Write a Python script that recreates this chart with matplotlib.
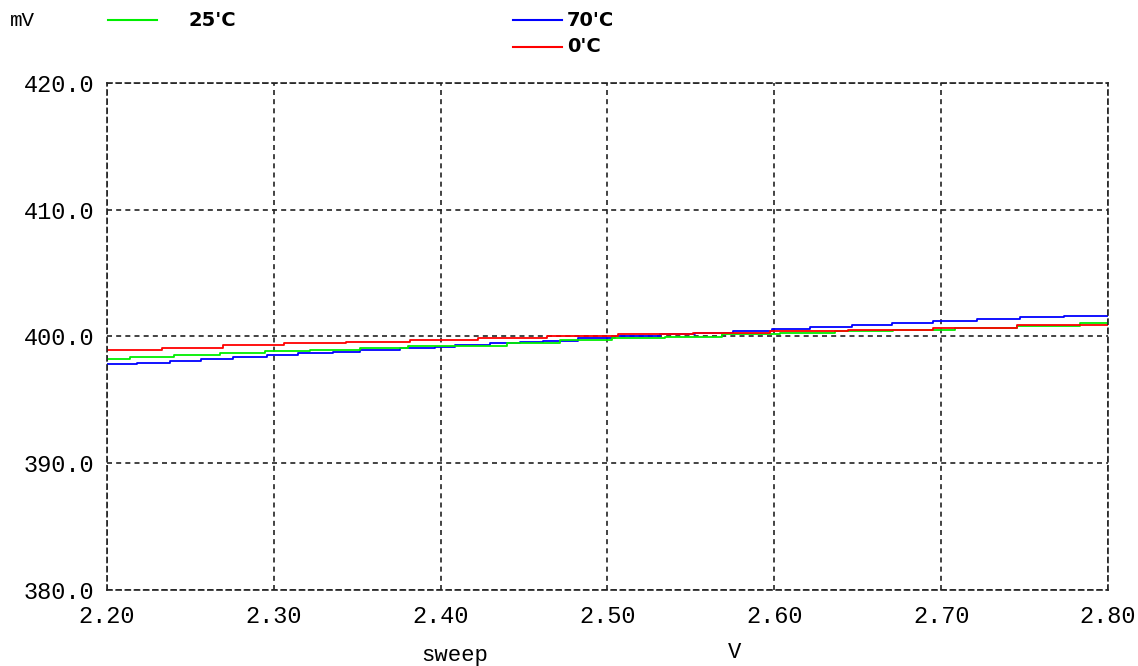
import matplotlib.pyplot as plt

# step curves: (sweep V, output mV), held until next point
v_25 = [2.200, 2.2138, 2.2402, 2.2677, 2.2947, 2.3217, 2.3517, 2.3804, 2.4398,
        2.4715, 2.5027, 2.5345, 2.5686, 2.6034, 2.6364, 2.6711, 2.7083, 2.7455,
        2.7832, 2.800]
mv_25 = [398.20, 398.36, 398.52, 398.67, 398.83, 398.93, 399.09, 399.25, 399.46,
         399.72, 399.85, 399.98, 400.17, 400.27, 400.41, 400.50, 400.67, 400.86,
         401.05, 401.05]

v_70 = [2.200, 2.218, 2.2378, 2.2563, 2.2755, 2.2959, 2.3145, 2.3355, 2.3517,
        2.3756, 2.3966, 2.4086, 2.4296, 2.4476, 2.4613, 2.4823, 2.5045, 2.5315,
        2.5524, 2.5752, 2.5986, 2.6214, 2.6466, 2.6705, 2.6951, 2.7215, 2.7473,
        2.7736, 2.800]
mv_70 = [397.81, 397.93, 398.09, 398.22, 398.38, 398.52, 398.67, 398.80, 398.93,
         399.08, 399.19, 399.31, 399.45, 399.55, 399.67, 399.86, 400.05, 400.20,
         400.31, 400.43, 400.61, 400.77, 400.93, 401.09, 401.25, 401.38, 401.51,
         401.64, 401.64]

v_0 = [2.200, 2.2330, 2.2695, 2.3061, 2.3433, 2.3816, 2.4224, 2.4637, 2.5063,
       2.5513, 2.5974, 2.6442, 2.6951, 2.7455, 2.800]
mv_0 = [398.93, 399.12, 399.31, 399.45, 399.57, 399.72, 399.91, 400.04, 400.16,
        400.30, 400.43, 400.53, 400.69, 400.89, 400.89]

xticks = [2.20, 2.30, 2.40, 2.50, 2.60, 2.70, 2.80]
yticks = [380.0, 390.0, 400.0, 410.0, 420.0]

mono = ['Liberation Mono', 'DejaVu Sans Mono']
narrow = ['Liberation Sans Narrow', 'DejaVu Sans']

fig = plt.figure(figsize=(11.38, 6.66), dpi=100)
ax = fig.add_axes([0.094, 0.1141, 0.8796, 0.7613])

ax.step(v_70, mv_70, where='post', color='#0000ff', lw=1.3)
ax.step(v_25, mv_25, where='post', color='#00ee00', lw=1.3)
ax.step(v_0, mv_0, where='post', color='#ff0000', lw=1.3)

ax.set_xlim(2.2, 2.8)
ax.set_ylim(380, 420)
ax.set_xticks(xticks)
ax.set_yticks(yticks)
ax.set_xticklabels(['%.2f' % t for t in xticks], fontfamily=mono, fontsize=17)
ax.set_yticklabels(['%.1f' % t for t in yticks], fontfamily=mono, fontsize=17)
ax.tick_params(length=0, pad=9)
ax.tick_params(axis='x', pad=11)

ax.grid(True, color='#222222', lw=1.2, linestyle=(0, (3, 2.5)))
for s in ax.spines.values():
    s.set_linestyle((0, (3, 2.5)))
    s.set_color('#222222')
    s.set_linewidth(1.2)

# header / legend
fig.text(10 / 1138, 1 - 20 / 666, 'mV', fontfamily=mono, fontsize=15, va='center')
fig.add_artist(plt.Line2D([108 / 1138, 157 / 1138], [1 - 20 / 666] * 2, color='#00ee00', lw=1.5))
fig.text(188 / 1138, 1 - 20 / 666, "25'C", fontfamily=narrow, fontweight='bold', fontsize=14, va='center')
fig.add_artist(plt.Line2D([513 / 1138, 562 / 1138], [1 - 20 / 666] * 2, color='#0000ff', lw=1.5))
fig.text(567 / 1138, 1 - 20 / 666, "70'C", fontfamily=narrow, fontweight='bold', fontsize=14, va='center')
fig.add_artist(plt.Line2D([513 / 1138, 562 / 1138], [1 - 47 / 666] * 2, color='#ff0000', lw=1.5))
fig.text(567 / 1138, 1 - 47 / 666, "0'C", fontfamily=narrow, fontweight='bold', fontsize=14, va='center')

fig.text(455 / 1138, 1 - 655 / 666, 'sweep', fontfamily=mono, fontsize=16, ha='center', va='center')
fig.text(735 / 1138, 1 - 652 / 666, 'V', fontfamily=mono, fontsize=16, ha='center', va='center')

fig.savefig('out.png', dpi=100)
